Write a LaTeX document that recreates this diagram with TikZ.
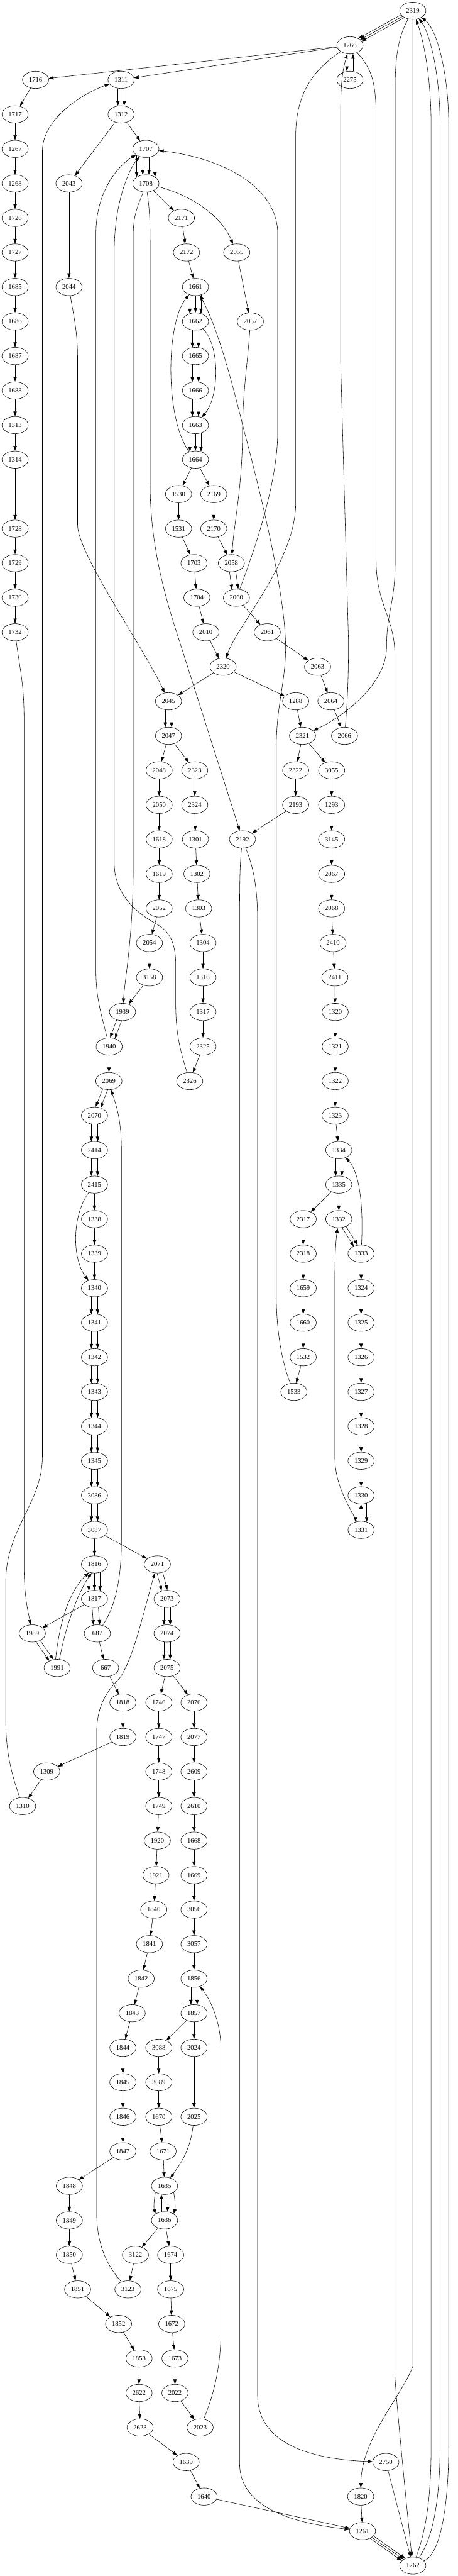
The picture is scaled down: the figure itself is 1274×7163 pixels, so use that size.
\documentclass[tikz,border=0pt]{standalone}
\usepackage{fontspec}
\setmainfont{Liberation Serif}
\usetikzlibrary{shapes.geometric,arrows.meta}
\tikzset{
 gnode/.style={draw, ellipse, line width=0.75pt, minimum width=54.75pt, minimum height=36pt, inner sep=0pt, font=\fontsize{14pt}{16pt}\selectfont},
 e/.style={-{Triangle[length=10pt,width=7pt]}, line width=0.75pt},
}
\newcommand\gn[3]{\node[gnode] (n#1) at (#2,{30+96*#3}) {#1};}
\begin{document}
\begin{tikzpicture}[x=0.75pt,y=-0.75pt]
\useasboundingbox (0,0) rectangle (1274,7163);
\gn{2319}{1149}{0}
\gn{1266}{974}{1}
\gn{1716}{99}{2} \gn{1311}{337}{2} \gn{2275}{974}{2}
\gn{1717}{42}{3} \gn{1312}{337}{3}
\gn{1267}{42}{4} \gn{1707}{406}{4}
\gn{1268}{42}{5} \gn{2043}{192}{5} \gn{1708}{406}{5}
\gn{1726}{42}{6} \gn{2171}{505}{6}
\gn{1727}{42}{7} \gn{2172}{519}{7} \gn{2055}{659}{7}
\gn{1685}{42}{8} \gn{2044}{192}{8} \gn{1661}{544}{8}
\gn{1686}{42}{9} \gn{1662}{544}{9} \gn{2057}{697}{9}
\gn{1687}{42}{10} \gn{1665}{544}{10}
\gn{1688}{42}{11} \gn{1666}{544}{11}
\gn{1313}{42}{12} \gn{1663}{544}{12}
\gn{1314}{42}{13} \gn{1664}{544}{13}
\gn{1530}{497}{14} \gn{2169}{595}{14}
\gn{1728}{42}{15} \gn{1531}{497}{15} \gn{2170}{595}{15}
\gn{1729}{42}{16} \gn{1703}{540}{16} \gn{2058}{644}{16}
\gn{1730}{42}{17} \gn{1704}{548}{17} \gn{2060}{658}{17}
\gn{1732}{42}{18} \gn{2010}{573}{18} \gn{2061}{744}{18}
\gn{2320}{621}{19} \gn{2063}{884}{19}
\gn{2045}{469}{20} \gn{1288}{823}{20} \gn{2064}{921}{20}
\gn{2047}{469}{21} \gn{2321}{842}{21} \gn{2066}{959}{21}
\gn{2048}{443}{22} \gn{2323}{542}{22} \gn{2322}{823}{22} \gn{3055}{923}{22}
\gn{2050}{443}{23} \gn{2324}{542}{23} \gn{2193}{823}{23} \gn{1293}{923}{23}
\gn{1618}{443}{24} \gn{1301}{544}{24} \gn{2192}{675}{24} \gn{3145}{923}{24}
\gn{1619}{443}{25} \gn{1302}{548}{25} \gn{2067}{923}{25}
\gn{2052}{443}{26} \gn{1303}{553}{26} \gn{2068}{923}{26}
\gn{2054}{416}{27} \gn{1304}{565}{27} \gn{2410}{927}{27}
\gn{3158}{416}{28} \gn{1316}{565}{28} \gn{2411}{932}{28}
\gn{1939}{341}{29} \gn{1317}{565}{29} \gn{1320}{933}{29}
\gn{1940}{304}{30} \gn{2325}{565}{30} \gn{1321}{933}{30}
\gn{2069}{303}{31} \gn{2326}{528}{31} \gn{1322}{933}{31}
\gn{2070}{263}{32} \gn{1323}{933}{32}
\gn{2414}{263}{33} \gn{1334}{943}{33}
\gn{2415}{263}{34} \gn{1335}{943}{34}
\gn{1338}{263}{35} \gn{2317}{844}{35} \gn{1332}{943}{35}
\gn{1339}{263}{36} \gn{2318}{844}{36} \gn{1333}{1005}{36}
\gn{1340}{263}{37} \gn{1659}{844}{37} \gn{1324}{1005}{37}
\gn{1341}{263}{38} \gn{1660}{844}{38} \gn{1325}{1005}{38}
\gn{1342}{263}{39} \gn{1532}{844}{39} \gn{1326}{1005}{39}
\gn{1343}{263}{40} \gn{1533}{818}{40} \gn{1327}{1005}{40}
\gn{1344}{263}{41} \gn{1328}{1005}{41}
\gn{1345}{263}{42} \gn{1329}{1005}{42}
\gn{3086}{263}{43} \gn{1330}{1005}{43}
\gn{3087}{263}{44} \gn{1331}{1005}{44}
\gn{1816}{263}{45} \gn{2071}{438}{45}
\gn{1817}{263}{46} \gn{2073}{465}{46}
\gn{1989}{90}{47} \gn{687}{271}{47} \gn{2074}{465}{47}
\gn{1991}{159}{48} \gn{667}{294}{48} \gn{2075}{465}{48}
\gn{1818}{342}{49} \gn{1746}{442}{49} \gn{2076}{540}{49}
\gn{1819}{342}{50} \gn{1747}{442}{50} \gn{2077}{540}{50}
\gn{1309}{130}{51} \gn{1748}{442}{51} \gn{2609}{540}{51}
\gn{1310}{63}{52} \gn{1749}{442}{52} \gn{2610}{540}{52}
\gn{1920}{438}{53} \gn{1668}{540}{53}
\gn{1921}{434}{54} \gn{1669}{540}{54}
\gn{1840}{428}{55} \gn{3056}{540}{55}
\gn{1841}{416}{56} \gn{3057}{540}{56}
\gn{1842}{393}{57} \gn{1856}{540}{57}
\gn{1843}{368}{58} \gn{1857}{540}{58}
\gn{1844}{342}{59} \gn{3088}{442}{59} \gn{2024}{540}{59}
\gn{1845}{342}{60} \gn{3089}{442}{60}
\gn{1846}{342}{61} \gn{1670}{442}{61} \gn{2025}{540}{61}
\gn{1847}{342}{62} \gn{1671}{454}{62}
\gn{1848}{193}{63} \gn{1635}{458}{63}
\gn{1849}{193}{64} \gn{1636}{458}{64}
\gn{1850}{193}{65} \gn{3122}{377}{65} \gn{1674}{475}{65}
\gn{1851}{216}{66} \gn{3123}{356}{66} \gn{1675}{475}{66}
\gn{1852}{330}{67} \gn{1672}{478}{67}
\gn{1853}{387}{68} \gn{1673}{487}{68}
\gn{2622}{387}{69} \gn{2022}{487}{69}
\gn{2623}{390}{70} \gn{2023}{557}{70}
\gn{1639}{518}{71} \gn{2750}{1074}{71}
\gn{1640}{568}{72} \gn{1820}{1004}{72}
\gn{1261}{1009}{73}
\gn{1262}{1149}{74}

% top
\draw[e] (n2319.-141) -- (n1266.19);
\draw[e] (n2319.-151) -- (n1266.29);
\draw[e] (n2319.-161) -- (n1266.39);
\draw[e] (n1266) -- (n1716);
\draw[e] (n1266) -- (n1311);
\draw[e] (n1266.-110) -- (n2275.110);
\draw[e] (n2275.70) -- (n1266.-70);
\draw[e] (n1311.-110) -- (n1312.110);
\draw[e] (n1311.-70) -- (n1312.70);
\foreach \a/\b in {1716/1717,1717/1267,1267/1268,1268/1726,1726/1727,1727/1685,1685/1686,1686/1687,1687/1688,1688/1313,1313/1314,1314/1728,1728/1729,1729/1730,1730/1732,
1312/2043,1312/1707,2043/2044,1708/2171,2171/2172,2172/1661,2055/2057,
1664/1530,1664/2169,1530/1531,1531/1703,1703/1704,1704/2010,2010/2320,2169/2170,2170/2058,2060/2061,2061/2063,2063/2064,2064/2066,
2320/2045,2320/1288,1288/2321,2047/2048,2047/2323,2321/2322,2321/3055,
2048/2050,2050/1618,1618/1619,1619/2052,2052/2054,2054/3158,3158/1939,
2323/2324,2324/1301,1301/1302,1302/1303,1303/1304,1304/1316,1316/1317,1317/2325,2325/2326,
2322/2193,2193/2192,3055/1293,1293/3145,3145/2067,2067/2068,2068/2410,2410/2411,2411/1320,1320/1321,1321/1322,1322/1323,1323/1334,
1940/2069,2415/1338,1338/1339,1339/1340,3087/1816,3087/2071,
1335/2317,1335/1332,2317/2318,2318/1659,1659/1660,1660/1532,1532/1533,
1333/1324,1324/1325,1325/1326,1326/1327,1327/1328,1328/1329,1329/1330,
1817/1989,687/667,667/1818,1818/1819,1819/1309,1309/1310,
2075/1746,2075/2076,1746/1747,1747/1748,1748/1749,1749/1920,1920/1921,1921/1840,1840/1841,1841/1842,1842/1843,1843/1844,1844/1845,1845/1846,1846/1847,1847/1848,1848/1849,1849/1850,1850/1851,1851/1852,1852/1853,1853/2622,2622/2623,2623/1639,1639/1640,1640/1261,
2076/2077,2077/2609,2609/2610,2610/1668,1668/1669,1669/3056,3056/3057,3057/1856,1857/3088,1857/2024,3088/3089,3089/1670,1670/1671,1671/1635,2024/2025,
1636/3122,1636/1674,3122/3123,1674/1675,1675/1672,1672/1673,1673/2022,2022/2023,
1820/1261,2750/1262}
  {\draw[e] (n\a) -- (n\b);}
% vertical doubles
\foreach \a/\b in {2045/2047,1662/1665,1665/1666,1666/1663,2070/2414,2414/2415,1340/1341,1341/1342,1342/1343,1343/1344,1344/1345,1345/3086,3086/3087,1334/1335,2073/2074,2074/2075,1856/1857}
  {\draw[e] (n\a.-110) -- (n\b.110); \draw[e] (n\a.-70) -- (n\b.70);}
% vertical triples
\foreach \a/\b in {1661/1662,1663/1664,1816/1817}
  {\draw[e] (n\a.-125) -- (n\b.125); \draw[e] (n\a.-90) -- (n\b.90); \draw[e] (n\a.-55) -- (n\b.55);}
% 1707 -> 1708 x4
\draw[e] (n1707.-145) -- (n1708.145);
\draw[e] (n1707.-110) -- (n1708.110);
\draw[e] (n1707.-70) -- (n1708.70);
\draw[e] (n1707.-35) -- (n1708.35);
% slanted doubles
\draw[e] (n2058.-62) -- (n2060.78);
\draw[e] (n2058.-102) -- (n2060.118);
\draw[e] (n1939.-96) -- (n1940.54);
\draw[e] (n1939.-126) -- (n1940.84);
\draw[e] (n2069.-98) -- (n2070.52);
\draw[e] (n2069.-128) -- (n2070.82);
\draw[e] (n1332.-45) -- (n1333.111);
\draw[e] (n1332.-69) -- (n1333.135);
\draw[e] (n1989.-42) -- (n1991.114);
\draw[e] (n1989.-66) -- (n1991.138);
\draw[e] (n1817.-65) -- (n687.75);
\draw[e] (n1817.-105) -- (n687.115);
\draw[e] (n2071.-56) -- (n2073.88);
\draw[e] (n2071.-92) -- (n2073.124);
% 1330/1331
\draw[e] (n1330.-125) -- (n1331.125);
\draw[e] (n1330.-55) -- (n1331.55);
\draw[e] (n1331) -- (n1330);
% 1635/1636
\draw[e] (n1635.-145) .. controls (428,6120) and (428,6140) .. (n1636.145);
\draw[e] (n1636.110) -- (n1635.-110);
\draw[e] (n1635.-70) -- (n1636.70);
\draw[e] (n1635.-35) .. controls (488,6120) and (488,6140) .. (n1636.35);
% 1261 -> 1262 x3
\draw[e] (n1261.-24) -- (n1262.136);
\draw[e] (n1261.-34) -- (n1262.146);
\draw[e] (n1261.-44) -- (n1262.156);
% 1991 -> 1816 x2
\draw[e] (n1991.100) .. controls (165,4520) and (188,4430) .. (n1816.-125);
\draw[e] (n1991.75) .. controls (185,4510) and (222,4420) .. (n1816.-108);

% curved / long edges
\draw[e] (n1266) .. controls (880,190) and (823,250) .. (823,380) -- (823,1400) .. controls (823,1560) and (660,1740) .. (n2320);
\draw[e] (n2066) .. controls (968,1940) and (970,1880) .. (970,1780) -- (948,1000) -- (948,330) .. controls (948,240) and (952,200) .. (n1266);
\draw[e] (n1266) .. controls (1035,190) and (1047,230) .. (1047,330) -- (1047,1560) .. controls (1047,1680) and (1099,1720) .. (1099,1820) -- (1099,6600) .. controls (1100,6650) and (1140,7050) .. (n1262);
\draw[e] (n2319) .. controls (1115,90) and (1100,140) .. (1100,240) -- (1100,1560) .. controls (1100,1680) and (1076,1700) .. (1076,1800) .. controls (1076,1900) and (960,1990) .. (n2321);
\draw[e] (n2319) -- (1149,6580) .. controls (1120,6660) and (1006,6780) .. (n1820);
\draw[e] (n1262) .. controls (1185,7040) and (1200,6950) .. (1200,6800) -- (1200,350) .. controls (1200,200) and (1175,100) .. (n2319);
\draw[e] (n1262) .. controls (1205,7060) and (1225,6950) .. (1225,6800) -- (1225,350) .. controls (1225,200) and (1195,90) .. (n2319);
\draw[e] (n1262) .. controls (1230,7100) and (1249,6950) .. (1249,6800) -- (1249,350) .. controls (1249,200) and (1215,80) .. (n2319);
\draw[e] (n1310) .. controls (35,4940) and (16,4880) .. (16,4780) -- (16,4400) .. controls (16,4250) and (118,4180) .. (118,4050) -- (118,420) .. controls (118,330) and (230,260) .. (n1311);
\draw[e] (n1732) .. controls (55,1860) and (67,1900) .. (67,2000) -- (67,4350) .. controls (67,4440) and (78,4480) .. (n1989);
\draw[e] (n2044) .. controls (205,880) and (216,920) .. (216,1000) -- (216,1460) .. controls (216,1540) and (400,1800) .. (n2045);
\draw[e] (n1940) .. controls (285,2830) and (267,2780) .. (267,2700) -- (267,650) .. controls (267,530) and (330,460) .. (n1707);
\draw[e] (n2326) .. controls (495,2900) and (489,2860) .. (489,2780) -- (489,2680) .. controls (489,2620) and (470,2590) .. (440,2572) .. controls (400,2550) and (318,2500) .. (318,2400) -- (318,700) .. controls (318,560) and (360,470) .. (n1707);
\draw[e] (n1708) .. controls (390,560) and (371,590) .. (371,650) -- (371,2400) .. controls (371,2600) and (348,2720) .. (n1939);
\draw[e] (n1708) .. controls (416,580) and (418,610) .. (418,700) -- (418,1350) .. controls (418,1550) and (480,1720) .. (505,1800) -- (n2192);
\draw[e] (n1708) .. controls (520,540) and (610,590) .. (n2055);
\draw[e] (n2060) .. controls (720,1500) and (773,1330) .. (773,1200) -- (773,650) .. controls (773,520) and (620,440) .. (n1707);
\draw[e] (n1533) .. controls (785,3790) and (769,3700) .. (769,3600) -- (769,2080) .. controls (769,1960) and (795,1900) .. (795,1800) .. controls (795,1650) and (720,1350) .. (680,1200) .. controls (650,1080) and (610,920) .. (n1661);
\draw[e] (n1664) .. controls (460,1170) and (460,900) .. (n1661);
\draw[e] (n1662) .. controls (612,960) and (612,1100) .. (n1663);
\draw[e] (n2057) .. controls (690,1000) and (675,1100) .. (675,1200) .. controls (675,1350) and (652,1450) .. (n2058);
\draw[e] (n687) .. controls (325,4460) and (338,4380) .. (338,4280) -- (338,3200) .. controls (338,3100) and (318,3060) .. (n2069);
\draw[e] (n2415) .. controls (200,3380) and (200,3500) .. (n1340);
\draw[e] (n1333) .. controls (1012,3350) and (1000,3260) .. (n1334);
\draw[e] (n1331) .. controls (970,4185) and (932,4130) .. (932,4050) -- (932,3560) .. controls (932,3480) and (936,3440) .. (n1332);
\draw[e] (n3123) .. controls (290,6290) and (269,6230) .. (269,6150) -- (269,4820) .. controls (269,4740) and (300,4700) .. (330,4670) .. controls (370,4620) and (400,4480) .. (n2071);
\draw[e] (n2023) .. controls (595,6660) and (615,6580) .. (615,6480) -- (615,5700) .. controls (615,5620) and (585,5560) .. (n1856);
\draw[e] (n2025) .. controls (530,5980) and (500,6020) .. (n1635);
\draw[e] (n2192) .. controls (668,2400) and (667,2450) .. (667,2550) -- (667,6850) .. controls (667,6990) and (860,7020) .. (n1261);
\draw[e] (n2192) .. controls (700,2400) and (717,2450) .. (717,2560) -- (717,6660) .. controls (717,6810) and (900,6840) .. (n2750);
\end{tikzpicture}
\end{document}
